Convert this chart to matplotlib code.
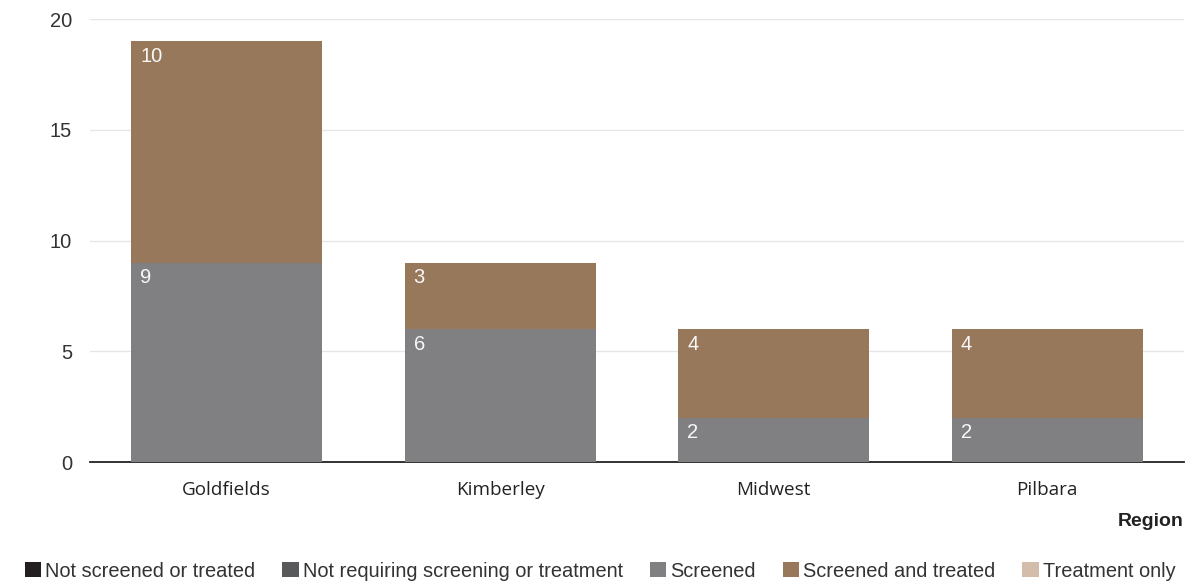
import numpy as np
import matplotlib
matplotlib.use("Agg")
import matplotlib.pyplot as plt
from matplotlib.patches import Patch

# ==========================================
# Data
# ==========================================
regions = ["Goldfields", "Kimberley", "Midwest", "Pilbara"]
series_names = [
    "Not screened or treated",
    "Not requiring screening or treatment",
    "Screened",
    "Screened and treated",
    "Treatment only",
]
not_screened = [0, 0, 0, 0]
not_requiring = [0, 0, 0, 0]
screened = [9, 6, 2, 2]
screened_treated = [10, 3, 4, 4]
treatment_only = [0, 0, 0, 0]
y_ticks = [0, 5, 10, 15, 20]

COLORS = ["#231f20", "#58595b", "#808083", "#98785a", "#d4bcab"]
TICK_FONT = "Liberation Sans"
CAT_FONT = "Open Sans"

# ==========================================
# Plot
# ==========================================
fig = plt.figure(figsize=(11.95, 5.87), dpi=100)
ax = fig.add_axes([0.0753, 0.2129, 0.9155, 0.7547])

x = np.arange(len(regions))
all_series = [not_screened, not_requiring, screened, screened_treated, treatment_only]
bottom = np.zeros(len(regions))
for vals, col in zip(all_series, COLORS):
    vals = np.array(vals, dtype=float)
    bars = ax.bar(x, vals, width=0.70, bottom=bottom, color=col, linewidth=0, zorder=3)
    for rect, v in zip(bars, vals):
        if v > 0:
            ax.annotate(f"{int(v)}", xy=(rect.get_x(), rect.get_y() + rect.get_height()),
                        xytext=(6.5, -4), textcoords="offset points",
                        ha="left", va="top", color="#f8f8f8",
                        fontsize=14.5, family=TICK_FONT, zorder=4)
    bottom += vals

ax.set_xlim(-0.5, len(regions) - 0.5)
ax.set_ylim(0, 20)
ax.set_yticks(y_ticks)
ax.set_yticklabels([str(t) for t in y_ticks], family=TICK_FONT, fontsize=14.5, color="#333333")
ax.set_xticks(x)
ax.set_xticklabels(regions, family=CAT_FONT, fontsize=13.6, color="#222222")
ax.tick_params(axis="y", length=0, pad=13)
ax.tick_params(axis="x", length=0, pad=14)
ax.grid(axis="y", color="#e6e6e6", linewidth=1, zorder=0)
ax.set_axisbelow(True)
for s in ["left", "right", "top"]:
    ax.spines[s].set_visible(False)
ax.spines["bottom"].set_color("#222222")
ax.spines["bottom"].set_linewidth(1.3)
ax.spines["bottom"].set_zorder(2)

fig.text(0.9908, 0.1124, "Region", ha="right", va="center",
         family=TICK_FONT, fontsize=14, fontweight="bold", color="#222222")

handles = [Patch(facecolor=c, edgecolor="none") for c in COLORS]
leg = fig.legend(handles, series_names, loc="center", bbox_to_anchor=(0.502, 0.027),
                 ncol=5, frameon=False, handlelength=0.82, handleheight=0.82,
                 handletextpad=0.2, columnspacing=1.35,
                 prop={"family": TICK_FONT, "size": 14.4})
for t in leg.get_texts():
    t.set_color("#333333")

fig.savefig("out.png", dpi=100)
